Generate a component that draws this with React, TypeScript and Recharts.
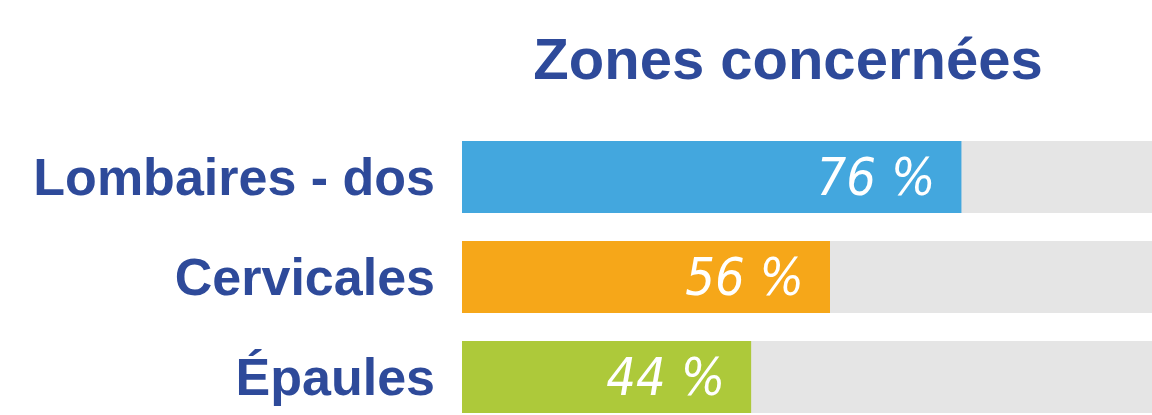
import React from "react";
import { BarChart, Bar, XAxis, YAxis, Cell, LabelList } from "recharts";

// zones du corps touchées (% des répondants)
const categories = ["Lombaires - dos", "Cervicales", "Épaules"];
const values = [76, 56, 44];
const title = "Zones concernées";

const COLORS = ["#43A7DE", "#F6A719", "#ADC93A"] as const;
const NAVY = "#2E4A9A";
const TRACK = "#E5E5E5";

const data = categories.map((name, i) => ({ name, value: values[i] }));

export default function App() {
  return (
    <div style={{ position: "absolute", left: 0, top: 0, width: 1152, height: 415, overflow: "hidden", background: "#fff" }}>
      <svg width={1152} height={415} style={{ position: "absolute", left: 0, top: 0 }}>
        <text x={788} y={79} textAnchor="middle" fill={NAVY} fontSize={58} fontWeight={700} fontFamily="'Liberation Sans', Arial, sans-serif">
          {title}
        </text>
      </svg>
      <div style={{ position: "absolute", left: 0, top: 0 }}>
        <BarChart
          width={1152}
          height={430}
          data={data}
          layout="vertical"
          margin={{ top: 127, right: 0, bottom: 3, left: 0 }}
          barSize={72}
        >
          <XAxis type="number" domain={[0, 105]} hide />
          <YAxis
            type="category"
            dataKey="name"
            width={462}
            axisLine={false}
            tickLine={false}
            tickSize={0}
            tickMargin={27}
            tick={{ fill: NAVY, fontSize: 52, fontWeight: 700, fontFamily: "'Liberation Sans', Arial, sans-serif" }}
          />
          <Bar dataKey="value" background={{ fill: TRACK }} isAnimationActive={false}>
            {data.map((_, i) => <Cell key={i} fill={COLORS[i % COLORS.length]} />)}
            <LabelList
              dataKey="value"
              position="insideRight"
              offset={26}
              formatter={(v: any) => `${v} %`}
              fill="#fff"
              fontSize={52}
              fontStyle="italic"
              fontFamily="'Liberation Sans Narrow', 'DejaVu Sans Condensed', sans-serif"
            />
          </Bar>
        </BarChart>
      </div>
    </div>
  );
}
